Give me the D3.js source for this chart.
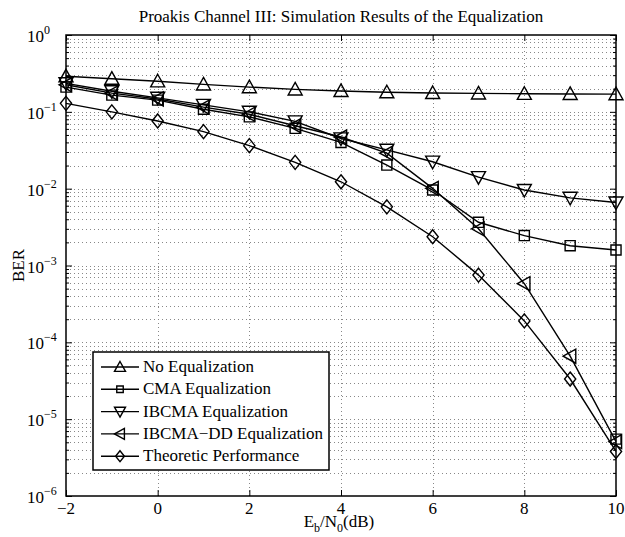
<!DOCTYPE html>
<html>
<head>
<meta charset="utf-8">
<script src="https://cdn.jsdelivr.net/npm/d3@7"></script>
<style>
  body { margin: 0; background: #fff; }
  svg { font-family: "Liberation Serif", "Times New Roman", serif; }
</style>
</head>
<body>
<div id="chart"></div>
<script>
// values
var snr = [-2, -1, 0, 1, 2, 3, 4, 5, 6, 7, 8, 9, 10];
var noEq = [0.29, 0.27, 0.25, 0.228, 0.21, 0.196, 0.187, 0.18, 0.176, 0.174, 0.172, 0.171, 0.17];
var cma = [0.21, 0.165, 0.142, 0.108, 0.086, 0.061, 0.040, 0.0203, 0.0096, 0.00365, 0.00245, 0.00181, 0.00159];
var ibcma = [0.235, 0.185, 0.152, 0.123, 0.1, 0.075, 0.045, 0.032, 0.0224, 0.0141, 0.0096, 0.0076, 0.0066];
var ibcmaDD = [0.225, 0.175, 0.147, 0.115, 0.093, 0.066, 0.047, 0.029, 0.0101, 0.0030, 0.00058, 0.000066, 0.0000051];
var theory = [0.129, 0.1, 0.076, 0.0552, 0.0363, 0.022, 0.0123, 0.0058, 0.00237, 0.00075, 0.00019, 0.0000333, 0.0000038];
// lone square marker sitting at the bottom right of the figure
var strayX = [10];
var strayY = [0.0000055];

var seriesNames = ["No Equalization", "CMA Equalization", "IBCMA Equalization", "IBCMA\u2212DD Equalization", "Theoretic Performance"];
var seriesMarkers = ["up", "square", "down", "left", "diamond"];
var seriesValues = [noEq, cma, ibcma, ibcmaDD, theory];

var xTicks = [-2, 0, 2, 4, 6, 8, 10];
var yExponents = [0, -1, -2, -3, -4, -5, -6];

var width = 625, height = 537;
var m = { left: 66, right: 616, top: 35, bottom: 496 };

var svg = d3.select("#chart").append("svg")
    .attr("width", width)
    .attr("height", height);

var x = d3.scaleLinear().domain([-2, 10]).range([m.left, m.right]);
var y = d3.scaleLog().domain([1e-6, 1]).range([m.bottom, m.top]);

// minor values for log grid
var minorY = [];
for (var e = -6; e < 0; e++) {
    for (var k = 2; k <= 9; k++) minorY.push(k * Math.pow(10, e));
}
var majorY = yExponents.map(function (p) { return Math.pow(10, p); });

// dotted grid
var grid = svg.append("g").attr("class", "grid")
    .style("stroke", "#888")
    .style("stroke-width", 1)
    .style("stroke-dasharray", "1,3");

grid.selectAll("line.h")
    .data(majorY.concat(minorY).filter(function (v) { return v > 1e-6 && v < 1; }))
    .enter().append("line")
    .attr("x1", m.left).attr("x2", m.right)
    .attr("y1", function (d) { return Math.round(y(d)) + 0.5; })
    .attr("y2", function (d) { return Math.round(y(d)) + 0.5; });

grid.selectAll("line.v")
    .data(xTicks.slice(1, -1))
    .enter().append("line")
    .attr("y1", m.top).attr("y2", m.bottom)
    .attr("x1", function (d) { return Math.round(x(d)) + 0.5; })
    .attr("x2", function (d) { return Math.round(x(d)) + 0.5; });

// axes with inward ticks, labels drawn by hand
function styleAxis(g) {
    g.selectAll("text").remove();
    g.select(".domain").remove();
    g.selectAll("line").attr("stroke", "#000").attr("stroke-width", 1);
}

svg.append("g").attr("transform", "translate(0," + m.bottom + ")")
    .call(d3.axisBottom(x).tickValues(xTicks).tickSize(-6)).call(styleAxis);
svg.append("g").attr("transform", "translate(0," + m.top + ")")
    .call(d3.axisTop(x).tickValues(xTicks).tickSize(-6)).call(styleAxis);
svg.append("g").attr("transform", "translate(" + m.left + ",0)")
    .call(d3.axisLeft(y).tickValues(majorY).tickSize(-6)).call(styleAxis);
svg.append("g").attr("transform", "translate(" + m.left + ",0)")
    .call(d3.axisLeft(y).tickValues(minorY).tickSize(-3)).call(styleAxis);
svg.append("g").attr("transform", "translate(" + m.right + ",0)")
    .call(d3.axisRight(y).tickValues(majorY).tickSize(-6)).call(styleAxis);
svg.append("g").attr("transform", "translate(" + m.right + ",0)")
    .call(d3.axisRight(y).tickValues(minorY).tickSize(-3)).call(styleAxis);

// frame
svg.append("rect")
    .attr("x", m.left).attr("y", m.top)
    .attr("width", m.right - m.left).attr("height", m.bottom - m.top)
    .attr("fill", "none").attr("stroke", "#000").attr("stroke-width", 1.5);

// tick labels
svg.append("g").selectAll("text")
    .data(xTicks)
    .enter().append("text")
    .attr("x", function (d) { return x(d); })
    .attr("y", m.bottom + 18)
    .attr("text-anchor", "middle")
    .style("font-size", "17px")
    .text(function (d) { return d < 0 ? "\u2212" + (-d) : d; });

var yl = svg.append("g").selectAll("text")
    .data(yExponents)
    .enter().append("text")
    .attr("x", 27)
    .attr("y", function (d) { return y(Math.pow(10, d)) + 7; })
    .style("font-size", "17px");
yl.append("tspan").text("10");
yl.append("tspan")
    .attr("dy", -8)
    .style("font-size", "12px")
    .text(function (d) { return d < 0 ? "\u2212" + (-d) : d; });

// marker shapes
function markerPath(type, s) {
    var h = s / 2;
    if (type === "up") return "M0," + (-h) + "L" + h + "," + (h * 0.8) + "L" + (-h) + "," + (h * 0.8) + "Z";
    if (type === "down") return "M0," + h + "L" + h + "," + (-h * 0.8) + "L" + (-h) + "," + (-h * 0.8) + "Z";
    if (type === "left") return "M" + (-h) + ",0L" + (h * 0.8) + "," + (-h) + "L" + (h * 0.8) + "," + h + "Z";
    if (type === "square") { var q = s * 0.36; return "M" + (-q) + "," + (-q) + "H" + q + "V" + q + "H" + (-q) + "Z"; }
    if (type === "diamond") return "M0," + (-h) + "L" + (h * 0.8) + ",0L0," + h + "L" + (-h * 0.8) + ",0Z";
}

var line = d3.line()
    .x(function (d) { return x(d[0]); })
    .y(function (d) { return y(d[1]); });

var plot = svg.append("g");
seriesValues.forEach(function (vals, i) {
    var pts = snr.map(function (s, j) { return [s, vals[j]]; });
    plot.append("path")
        .attr("d", line(pts))
        .attr("fill", "none")
        .attr("stroke", "#000")
        .attr("stroke-width", 1.4);
    plot.append("g").selectAll("path")
        .data(pts)
        .enter().append("path")
        .attr("transform", function (d) { return "translate(" + x(d[0]) + "," + y(d[1]) + ")"; })
        .attr("d", markerPath(seriesMarkers[i], 14))
        .attr("fill", "none")
        .attr("stroke", "#000")
        .attr("stroke-width", 1.4);
});

plot.append("g").selectAll("path")
    .data(strayX.map(function (v, j) { return [v, strayY[j]]; }))
    .enter().append("path")
    .attr("transform", function (d) { return "translate(" + x(d[0]) + "," + y(d[1]) + ")"; })
    .attr("d", markerPath("square", 14))
    .attr("fill", "none")
    .attr("stroke", "#000")
    .attr("stroke-width", 1.4);

// legend
var lg = svg.append("g").attr("transform", "translate(93,352)");
lg.append("rect")
    .attr("width", 236).attr("height", 118)
    .attr("fill", "#fff").attr("stroke", "#000").attr("stroke-width", 1.5);
var rows = lg.selectAll("g.row")
    .data(seriesNames)
    .enter().append("g")
    .attr("transform", function (d, i) { return "translate(0," + (15 + i * 22.3) + ")"; });
rows.append("line")
    .attr("x1", 8).attr("x2", 46)
    .attr("stroke", "#000").attr("stroke-width", 1.4);
rows.append("path")
    .attr("transform", "translate(27,0)")
    .attr("d", function (d, i) { return markerPath(seriesMarkers[i], i === 1 ? 9 : 11); })
    .attr("fill", "none").attr("stroke", "#000").attr("stroke-width", 1.4);
rows.append("text")
    .attr("x", 50).attr("y", 5)
    .style("font-size", "17px")
    .text(function (d) { return d; });

// title and axis labels
svg.append("text")
    .attr("x", (m.left + m.right) / 2).attr("y", 22)
    .attr("text-anchor", "middle")
    .style("font-size", "17px")
    .text("Proakis Channel III: Simulation Results of the Equalization");

svg.append("text")
    .attr("transform", "translate(24," + (m.top + m.bottom) / 2 + ") rotate(-90)")
    .attr("text-anchor", "middle")
    .style("font-size", "17px")
    .text("BER");

var xl = svg.append("text")
    .attr("x", 339).attr("y", 527)
    .attr("text-anchor", "middle")
    .style("font-size", "17px");
xl.append("tspan").text("E");
xl.append("tspan").attr("dy", 5).style("font-size", "12px").text("b");
xl.append("tspan").attr("dy", -5).text("/N");
xl.append("tspan").attr("dy", 5).style("font-size", "12px").text("0");
xl.append("tspan").attr("dy", -5).text("(dB)");
</script>
</body>
</html>
